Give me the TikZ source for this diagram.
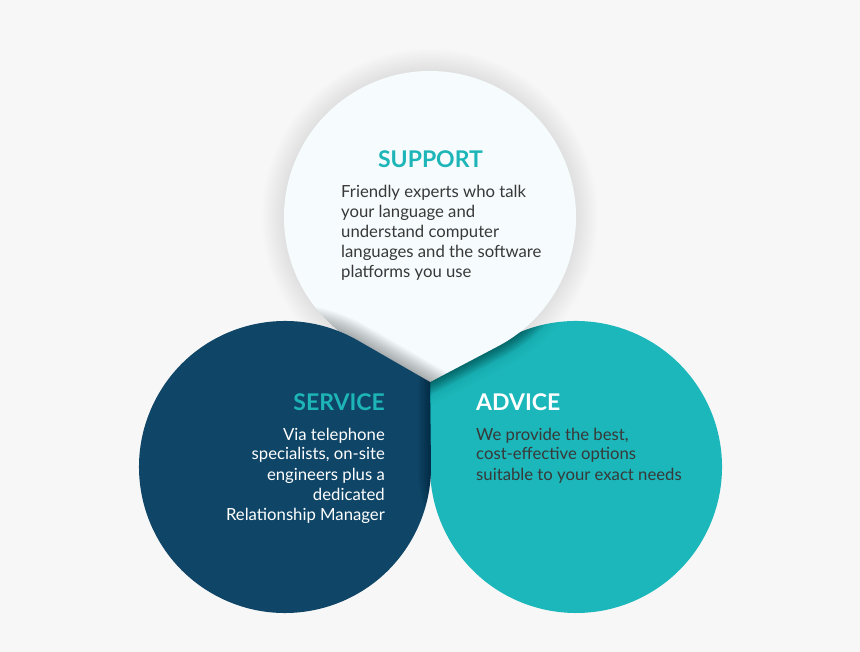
\documentclass[tikz,border=0pt]{standalone}
\usepackage{fontspec}
\setmainfont{Lato}
\definecolor{bg}{HTML}{F7F7F7}
\definecolor{navy}{HTML}{0F4567}
\definecolor{tealc}{HTML}{1CB7BA}
\definecolor{headteal}{HTML}{1DB5B8}
\definecolor{paper}{HTML}{F6FCFE}
\definecolor{ink}{HTML}{383838}
\def\whitepath{(430,382) -- (498.03,346.2) arc[start angle=62.23,end angle=-242.23,radius=146] -- cycle}
\def\bluepath{(430,382) -- (357.82,340.46) arc[start angle=-60.08,end angle=-360.68,radius=146] -- cycle}
\def\tealpath{(430,382) -- (503.91,340.04) arc[start angle=-119.59,end angle=180.01,radius=146] -- cycle}
\begin{document}
\begin{tikzpicture}[x=1pt,y=-1pt,
  body/.style={font=\fontsize{16.7}{20}\selectfont, inner sep=0pt},
  head/.style={font=\bfseries\fontsize{23}{26}\selectfont, inner sep=0pt}]
\useasboundingbox (0,0) rectangle (860,652);
\fill[bg] (0,0) rectangle (860,652);
% teal circle
\fill[tealc] \tealpath;
% halo of the white drop
\foreach \w in {4,8,...,44} \draw[black,opacity=0.006,line width=\w pt] \whitepath;
\begin{scope}
  \clip \tealpath;
  \foreach \w in {2,4,...,24} \draw[black,opacity=0.03,line width=\w pt] \whitepath;
\end{scope}
% white drop
\fill[paper] \whitepath;
\begin{scope}
  \clip \whitepath;
  \foreach \w in {2,4,...,34} \draw[black,opacity=0.02,line width=\w pt] \bluepath;
\end{scope}
% blue circle
\fill[navy] \bluepath;
\begin{scope}
  \clip \bluepath;
  \foreach \w in {2,4,...,24} \draw[black,opacity=0.025,line width=\w pt] \tealpath;
\end{scope}
% texts
\node[head, text=headteal, anchor=base] (suphead) at (430.5,168) {SUPPORT};
\foreach \t [count=\i] in {Friendly experts who talk, your language and, understand computer, languages and the software, platforms you use}
  \node[body, text=ink, anchor=base west] (sup\i) at (341,178+20*\i) {\t};
\node[head, text=headteal, anchor=base east] (serhead) at (385,410) {SERVICE};
\foreach \t [count=\i] in {Via telephone, {specialists, on-site}, engineers plus a, dedicated, Relationship Manager}
  \node[body, text=white, anchor=base east] (ser\i) at (385,420+20*\i) {\t};
\node[head, text=white, anchor=base west] (advhead) at (476,410) {ADVICE};
\foreach \t [count=\i] in {{We provide the best,}, cost-effective options, suitable to your exact needs}
  \node[body, text=ink, anchor=base west] (adv\i) at (476,420+20*\i) {\t};
\end{tikzpicture}
\end{document}
